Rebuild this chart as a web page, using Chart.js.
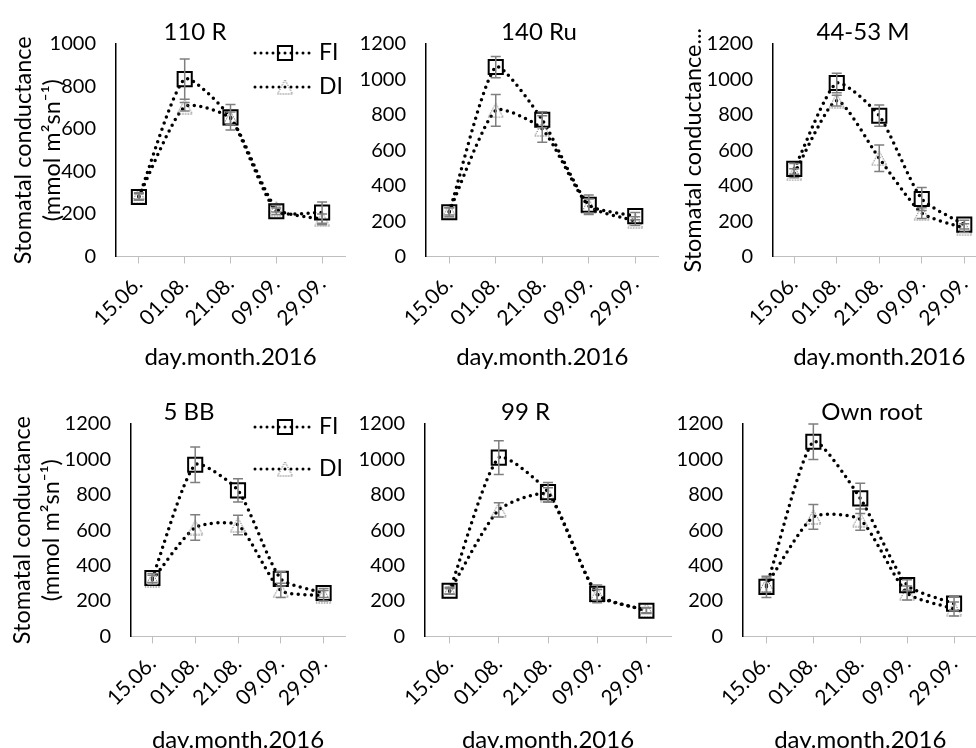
<!DOCTYPE html>
<html>
<head>
<meta charset="utf-8">
<script src="https://cdn.jsdelivr.net/npm/chart.js@4.4.1/dist/chart.umd.min.js"></script>
<style>
  html, body { margin: 0; padding: 0; background: #fff; overflow: hidden; width: 976px; height: 748px; }
  canvas { position: absolute; }
</style>
</head>
<body>
<canvas id="c1"></canvas>
<canvas id="c2"></canvas>
<canvas id="c3"></canvas>
<canvas id="c4"></canvas>
<canvas id="c5"></canvas>
<canvas id="c6"></canvas>
<script>
// sampling dates (x categories)
const dates = ["15.06.", "01.08.", "21.08.", "09.09.", "29.09."];

// 110 R
const fi110R = [280, 835, 655, 213, 207];
const fi110RErr = [15, 95, 60, 15, 50];
const di110R = [285, 705, 650, 225, 175];
const di110RErr = [15, 20, 30, 15, 25];

// 140 Ru
const fi140Ru = [250, 1070, 772, 292, 228];
const fi140RuErr = [25, 60, 45, 55, 20];
const di140Ru = [255, 825, 720, 285, 200];
const di140RuErr = [20, 90, 75, 40, 25];

// 44-53 M
const fi4453M = [495, 980, 795, 325, 180];
const fi4453MErr = [30, 55, 60, 65, 25];
const di4453M = [470, 880, 555, 245, 160];
const di4453MErr = [25, 30, 75, 30, 25];

// 5 BB
const fi5BB = [330, 970, 825, 325, 245];
const fi5BBErr = [25, 100, 65, 40, 25];
const di5BB = [320, 615, 630, 260, 230];
const di5BBErr = [25, 72, 55, 40, 30];

// 99 R
const fi99R = [258, 1010, 815, 240, 145];
const fi99RErr = [20, 95, 55, 50, 15];
const di99R = [255, 715, 800, 235, 148];
const di99RErr = [15, 40, 40, 30, 15];

// Own root
const fiOwn = [280, 1100, 780, 290, 185];
const fiOwnErr = [60, 100, 85, 30, 40];
const diOwn = [290, 675, 660, 245, 155];
const diOwnErr = [40, 70, 60, 40, 40];

const FONT = "Lato";
const yTitle2 = ["Stomatal conductance", "(mmol m\u00B2sn\u207B\u00B9)"];

// dotted grey triangle used as DI marker
function makeTriangle() {
  const c = document.createElement("canvas");
  c.width = 17;
  c.height = 16;
  const g = c.getContext("2d");
  g.strokeStyle = "#6f6f6f";
  g.lineWidth = 1;
  g.setLineDash([1.5, 1.2]);
  g.beginPath();
  g.moveTo(8.5, 1);
  g.lineTo(16, 15);
  g.lineTo(1, 15);
  g.closePath();
  g.stroke();
  return c;
}
const triangle = makeTriangle();

const errorBars = {
  id: "errorBars",
  afterDatasetsDraw(chart) {
    const { ctx } = chart;
    const x = chart.scales.x;
    const y = chart.scales.y;
    ctx.save();
    ctx.strokeStyle = "#7f7f7f";
    ctx.lineWidth = 1.5;
    chart.data.datasets.forEach((ds) => {
      ds.data.forEach((v, i) => {
        const e = ds.errors[i];
        const px = x.getPixelForValue(i);
        const t = y.getPixelForValue(v + e);
        const b = y.getPixelForValue(v - e);
        ctx.beginPath();
        ctx.moveTo(px, t); ctx.lineTo(px, b);
        ctx.moveTo(px - 5, t); ctx.lineTo(px + 5, t);
        ctx.moveTo(px - 5, b); ctx.lineTo(px + 5, b);
        ctx.stroke();
      });
    });
    ctx.restore();
  },
};

const insideLegend = {
  id: "insideLegend",
  afterDraw(chart, args, opts) {
    if (!opts.rows) return;
    const { ctx, chartArea: a } = chart;
    chart.data.datasets.forEach((ds, k) => {
      const yy = a.top + opts.rows[k];
      ctx.save();
      ctx.strokeStyle = "#000";
      ctx.lineWidth = 3;
      ctx.lineCap = "round";
      ctx.setLineDash([0, 6]);
      ctx.beginPath();
      ctx.moveTo(a.right - 90, yy);
      ctx.lineTo(a.right - 30, yy);
      ctx.stroke();
      ctx.restore();

      ctx.save();
      ctx.strokeStyle = "#000";
      ctx.fillStyle = "rgba(0,0,0,0)";
      ctx.lineWidth = 2;
      Chart.helpers.drawPoint(ctx, { pointStyle: ds.pointStyle, radius: ds.pointRadius, borderWidth: 2, rotation: 0 }, a.right - 60, yy);
      ctx.fillStyle = "#000";
      ctx.font = "23px " + FONT;
      ctx.textBaseline = "middle";
      ctx.fillText(ds.label, a.right - 26, yy);
      ctx.restore();
    });
  },
};

function makeChart(id, geo, title, ymax, yTitle, fi, fiErr, di, diErr) {
  const cv = document.getElementById(id);
  cv.width = geo.w;
  cv.height = geo.h;
  cv.style.left = geo.left + "px";
  cv.style.top = geo.top + "px";

  return new Chart(cv.getContext("2d"), {
    type: "line",
    data: {
      labels: dates,
      datasets: [
        {
          label: "FI",
          data: fi,
          errors: fiErr,
          borderColor: "#000",
          borderWidth: 3.5,
          borderDash: [0, 6.5],
          borderCapStyle: "round",
          tension: 0.2,
          fill: false,
          pointStyle: "rect",
          pointRadius: 10,
          pointBorderColor: "#000",
          pointBorderWidth: 2,
          pointBackgroundColor: "rgba(0,0,0,0)",
        },
        {
          label: "DI",
          data: di,
          errors: diErr,
          borderColor: "#000",
          borderWidth: 3.5,
          borderDash: [0, 6.5],
          borderCapStyle: "round",
          tension: 0.2,
          fill: false,
          pointStyle: triangle,
          pointRadius: 9,
        },
      ],
    },
    plugins: [errorBars, insideLegend],
    options: {
      responsive: false,
      animation: false,
      layout: { padding: 0 },
      plugins: {
        legend: { display: false },
        tooltip: { enabled: false },
        title: {
          display: true,
          text: title,
          color: "#000",
          font: { family: FONT, size: 24, weight: "normal", lineHeight: 1 },
          padding: { top: 20, bottom: 0 },
        },
        insideLegend: { rows: geo.legend },
      },
      scales: {
        x: {
          offset: true,
          grid: { display: true, drawOnChartArea: false, offset: false, color: "#bfbfbf", tickLength: 7 },
          border: { display: true, color: "#bfbfbf", width: 1 },
          ticks: {
            minRotation: 45,
            maxRotation: 45,
            autoSkip: false,
            padding: 8,
            color: "#000",
            font: { family: FONT, size: 21 },
          },
          title: {
            display: true,
            text: "day.month.2016",
            color: "#000",
            font: { family: FONT, size: 24, lineHeight: 1.1 },
            padding: 0,
          },
          afterFit(s) { s.height = geo.xh; },
        },
        y: {
          min: 0,
          max: ymax,
          ticks: {
            stepSize: 200,
            padding: 20,
            color: "#000",
            font: { family: FONT, size: 20 },
            callback: (v) => String(v),
          },
          grid: { display: false, drawTicks: false },
          border: { display: true, color: "#000", width: 1.5 },
          title: {
            display: !!yTitle,
            text: yTitle || "",
            color: "#000",
            font: { family: FONT, size: 23.5, lineHeight: 1.25 },
            padding: { top: geo.yt || 0, bottom: 0 },
          },
          afterFit(s) { s.width = geo.yw; },
        },
        // empty right-hand margin so the panel title centres on the whole canvas
        margin: {
          type: "linear",
          position: "right",
          ticks: { display: false },
          grid: { display: false, drawTicks: false },
          border: { display: false },
          afterFit(s) { s.width = geo.pr; },
        },
      },
    },
  });
}

makeChart("c1", { left: 0, top: 0, w: 390, h: 370, yw: 116, pr: 45, xh: 113.5, yt: 8.3, legend: [9, 43] },
  "110 R", 1000, yTitle2, fi110R, fi110RErr, di110R, di110RErr);
makeChart("c2", { left: 355, top: 0, w: 368, h: 370, yw: 71, pr: 64.5, xh: 113.5 },
  "140 Ru", 1200, null, fi140Ru, fi140RuErr, di140Ru, di140RuErr);
makeChart("c3", { left: 650, top: 0, w: 426, h: 370, yw: 123, pr: 90.5, xh: 113.5, yt: 28.3 },
  "44-53 M", 1200, "Stomatal conductance...", fi4453M, fi4453MErr, di4453M, di4453MErr);
makeChart("c4", { left: 0, top: 380, w: 378, h: 373, yw: 131, pr: 33, xh: 116.6, yt: 7.3, legend: [3, 45] },
  "5 BB", 1200, yTitle2, fi5BB, fi5BBErr, di5BB, di5BBErr);
makeChart("c5", { left: 355, top: 380, w: 341, h: 373, yw: 70, pr: 25, xh: 116.6 },
  "99 R", 1200, null, fi99R, fi99RErr, di99R, di99RErr);
makeChart("c6", { left: 670, top: 380, w: 404, h: 373, yw: 73, pr: 96.5, xh: 116.6 },
  "Own root", 1200, null, fiOwn, fiOwnErr, diOwn, diOwnErr);
</script>
</body>
</html>
